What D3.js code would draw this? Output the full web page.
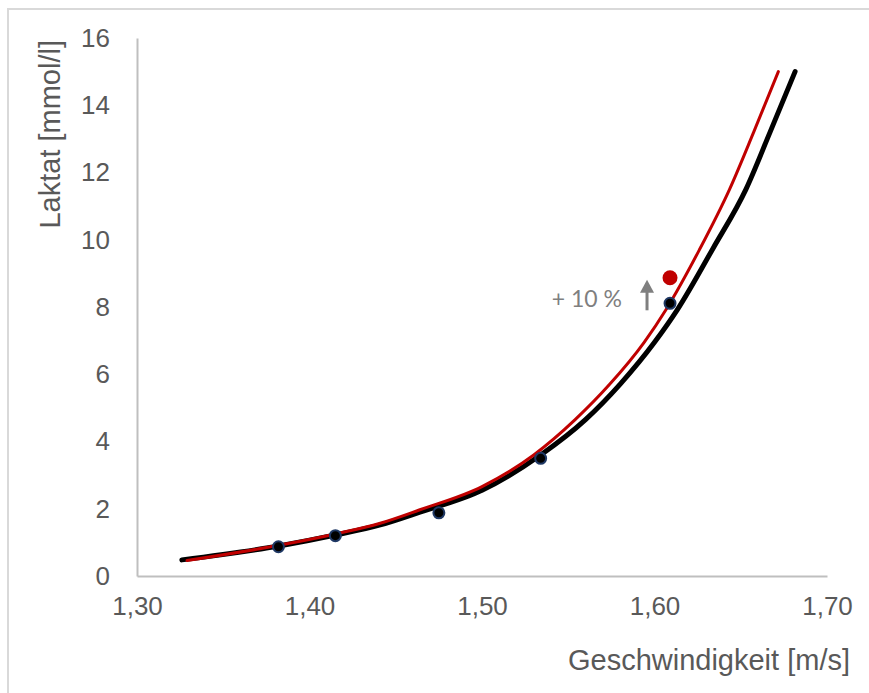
<!DOCTYPE html>
<html>
<head>
<meta charset="utf-8">
<script src="https://cdn.jsdelivr.net/npm/d3@7"></script>
<style>
  body { margin: 0; background: #fff; }
  svg text { font-family: "Liberation Sans", Arial, sans-serif; fill: #595959; }
</style>
</head>
<body>
<div id="chart"></div>
<script>
// values

// fitted curve (black)
const blackX = [1.326, 1.383, 1.415, 1.441, 1.464, 1.500, 1.534, 1.560, 1.580, 1.600, 1.613, 1.634, 1.653, 1.667, 1.6815];
const blackY = [0.48, 0.90, 1.22, 1.52, 1.90, 2.55, 3.60, 4.65, 5.70, 6.95, 7.90, 9.75, 11.5, 13.2, 15.0];

// shifted curve (red)
const redX = [1.329, 1.383, 1.415, 1.441, 1.464, 1.500, 1.530, 1.554, 1.574, 1.594, 1.607, 1.626, 1.6435, 1.6575, 1.6718];
const redY = [0.46, 0.92, 1.25, 1.57, 1.97, 2.66, 3.60, 4.65, 5.70, 6.95, 7.95, 9.70, 11.5, 13.2, 15.0];

// measured points
const measX = [1.382, 1.415, 1.475, 1.534, 1.609];
const measY = [0.87, 1.20, 1.88, 3.50, 8.11];

// +10 % point
const plusX = [1.609];
const plusY = [8.87];

const xTicks = [1.30, 1.40, 1.50, 1.60, 1.70];
const yTicks = [0, 2, 4, 6, 8, 10, 12, 14, 16];

const svgWidth = 869, svgHeight = 693;
const margin = { top: 38, right: 42, bottom: 117, left: 137 };
const width = svgWidth - margin.left - margin.right;
const height = svgHeight - margin.top - margin.bottom;

const svg = d3.select("#chart")
  .append("svg")
  .attr("width", svgWidth)
  .attr("height", svgHeight);

// outer frame (continues past right/bottom edge)
svg.append("rect")
  .attr("x", 8).attr("y", 9)
  .attr("width", svgWidth + 10).attr("height", svgHeight + 10)
  .attr("fill", "none")
  .attr("stroke", "#d9d9d9")
  .attr("stroke-width", 2);

const chart = svg.append("g")
  .attr("transform", `translate(${margin.left}, ${margin.top})`);

const xScale = d3.scaleLinear().domain([1.30, 1.70]).range([0, width]);
const yScale = d3.scaleLinear().domain([0, 16]).range([height, 0]);

// x-axis
const xAxis = chart.append("g")
  .attr("transform", `translate(0, ${height})`)
  .call(d3.axisBottom(xScale).tickValues(xTicks).tickSize(0).tickPadding(21)
    .tickFormat(d => d3.format(".2f")(d).replace(".", ",")));
xAxis.select(".domain").attr("stroke", "#bfbfbf").attr("stroke-width", 2);
xAxis.selectAll("text")
  .attr("font-size", 26)
  .attr("fill", "#595959")
  .attr("font-family", "Liberation Sans, Arial, sans-serif");

// y-axis
const yAxis = chart.append("g")
  .call(d3.axisLeft(yScale).tickValues(yTicks).tickSize(0).tickPadding(27));
yAxis.select(".domain").attr("stroke", "#bfbfbf").attr("stroke-width", 2);
yAxis.selectAll("text")
  .attr("font-size", 26)
  .attr("fill", "#595959")
  .attr("font-family", "Liberation Sans, Arial, sans-serif");

// axis labels
chart.append("text")
  .attr("transform", "rotate(-90)")
  .attr("x", -2)
  .attr("y", -77)
  .style("text-anchor", "end")
  .attr("font-size", 29)
  .text("Laktat [mmol/l]");

chart.append("text")
  .attr("x", width + 23)
  .attr("y", height + 94)
  .style("text-anchor", "end")
  .attr("font-size", 29)
  .text("Geschwindigkeit [m/s]");

// curves
const line = d3.line()
  .x(d => xScale(d[0]))
  .y(d => yScale(d[1]))
  .curve(d3.curveMonotoneX);

chart.append("path")
  .datum(blackX.map((x, i) => [x, blackY[i]]))
  .attr("d", line)
  .attr("fill", "none")
  .attr("stroke", "#000")
  .attr("stroke-width", 5)
  .attr("stroke-linecap", "round");

chart.append("path")
  .datum(redX.map((x, i) => [x, redY[i]]))
  .attr("d", line)
  .attr("fill", "none")
  .attr("stroke", "#c00000")
  .attr("stroke-width", 3)
  .attr("stroke-linecap", "round");

// measured points
chart.selectAll(".meas")
  .data(measX)
  .enter()
  .append("circle")
  .attr("class", "meas")
  .attr("cx", d => xScale(d))
  .attr("cy", (d, i) => yScale(measY[i]))
  .attr("r", 5.5)
  .attr("fill", "#000")
  .attr("stroke", "#1f3864")
  .attr("stroke-width", 2);

chart.selectAll(".plus")
  .data(plusX)
  .enter()
  .append("circle")
  .attr("class", "plus")
  .attr("cx", d => xScale(d))
  .attr("cy", (d, i) => yScale(plusY[i]))
  .attr("r", 7.5)
  .attr("fill", "#c00000");

// arrow and annotation
const ax = xScale(plusX[0]) - 23;
const ayBottom = yScale(measY[4]) + 7;
const ayTop = yScale(plusY[0]) + 2;

chart.append("line")
  .attr("x1", ax).attr("x2", ax)
  .attr("y1", ayBottom).attr("y2", ayTop + 10)
  .attr("stroke", "#7f7f7f")
  .attr("stroke-width", 3);

chart.append("path")
  .attr("d", `M${ax - 7},${ayTop + 13} L${ax},${ayTop} L${ax + 7},${ayTop + 13} Z`)
  .attr("fill", "#7f7f7f");

chart.append("text")
  .attr("x", ax - 25)
  .attr("y", ayTop + 27)
  .style("text-anchor", "end")
  .attr("font-size", 23)
  .style("font-family", "Lato, 'Open Sans', sans-serif")
  .style("fill", "#7f7f7f")
  .text("+ 10 %");
</script>
</body>
</html>
